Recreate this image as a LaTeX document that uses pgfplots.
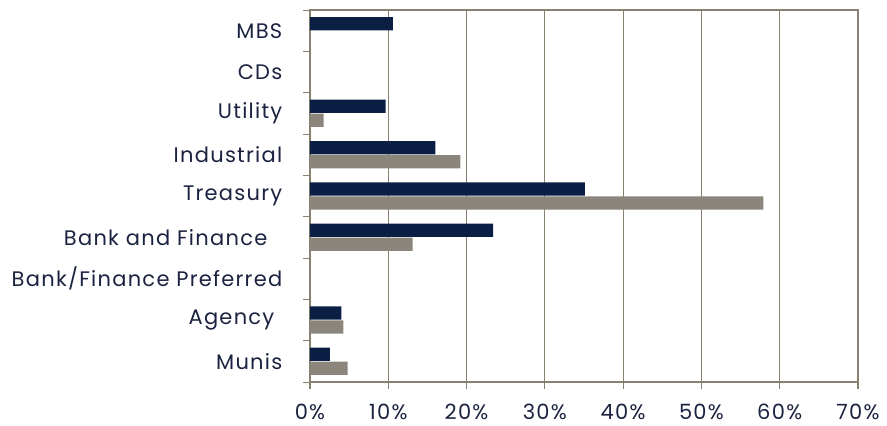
\documentclass[border=0pt]{standalone}
\usepackage{pgfplots}
\pgfplotsset{compat=1.18}
\usepackage{fontspec}
\setmainfont{Poppins}[LetterSpace=6]
\definecolor{navy}{HTML}{0B1F45}
\definecolor{taupe}{HTML}{8B857B}
\definecolor{gridc}{HTML}{86826F}
\definecolor{txt}{HTML}{1B2340}
\begin{document}
\begin{tikzpicture}
\path[use as bounding box] (-310pt,-44pt) rectangle (577pt,382pt);
\begin{axis}[
  at={(0pt,0pt)}, anchor=south west,
  scale only axis, width=548pt, height=372pt,
  xbar, bar width=0.32,
  xmin=0, xmax=70, ymin=0.5, ymax=9.5,
  xtick={0,10,...,70},
  xticklabel={\pgfmathprintnumber{\tick}\%},
  ytick={1,...,9},
  yticklabels={Munis, Agency\kern8pt, Bank/Finance Preferred, Bank and Finance\kern15pt, Treasury, Industrial, Utility, CDs, MBS},
  ytick pos=left, xtick pos=bottom,
  ytick style={draw=none},
  extra y ticks={0.5,1.5,...,9.5},
  extra y tick labels={},
  extra y tick style={grid=none, ytick style={draw=gridc, line width=1pt}},
  tick align=outside,
  major tick length=6.5pt,
  xtick style={draw=gridc, line width=1.2pt},
  xmajorgrids,
  grid style={draw=gridc, line width=1.2pt},
  axis line style={draw=gridc, line width=1.2pt},
  every tick label/.append style={font=\fontsize{21}{24}\selectfont, text=txt},
  /pgf/number format/assume math mode=true,
  yticklabel style={anchor=east, inner sep=0pt, xshift=-21pt},
  xticklabel style={anchor=north, inner sep=0pt, yshift=-15pt},
]
\addplot[fill=navy, draw=none, bar shift=0.17] coordinates {
  (2.55,1) (4.0,2) (23.4,4) (35.1,5) (16.0,6) (9.65,7) (10.6,9)
};
\addplot[fill=taupe, draw=none, bar shift=-0.17] coordinates {
  (4.8,1) (4.25,2) (13.1,4) (57.9,5) (19.2,6) (1.75,7)
};
\end{axis}
\end{tikzpicture}
\end{document}
